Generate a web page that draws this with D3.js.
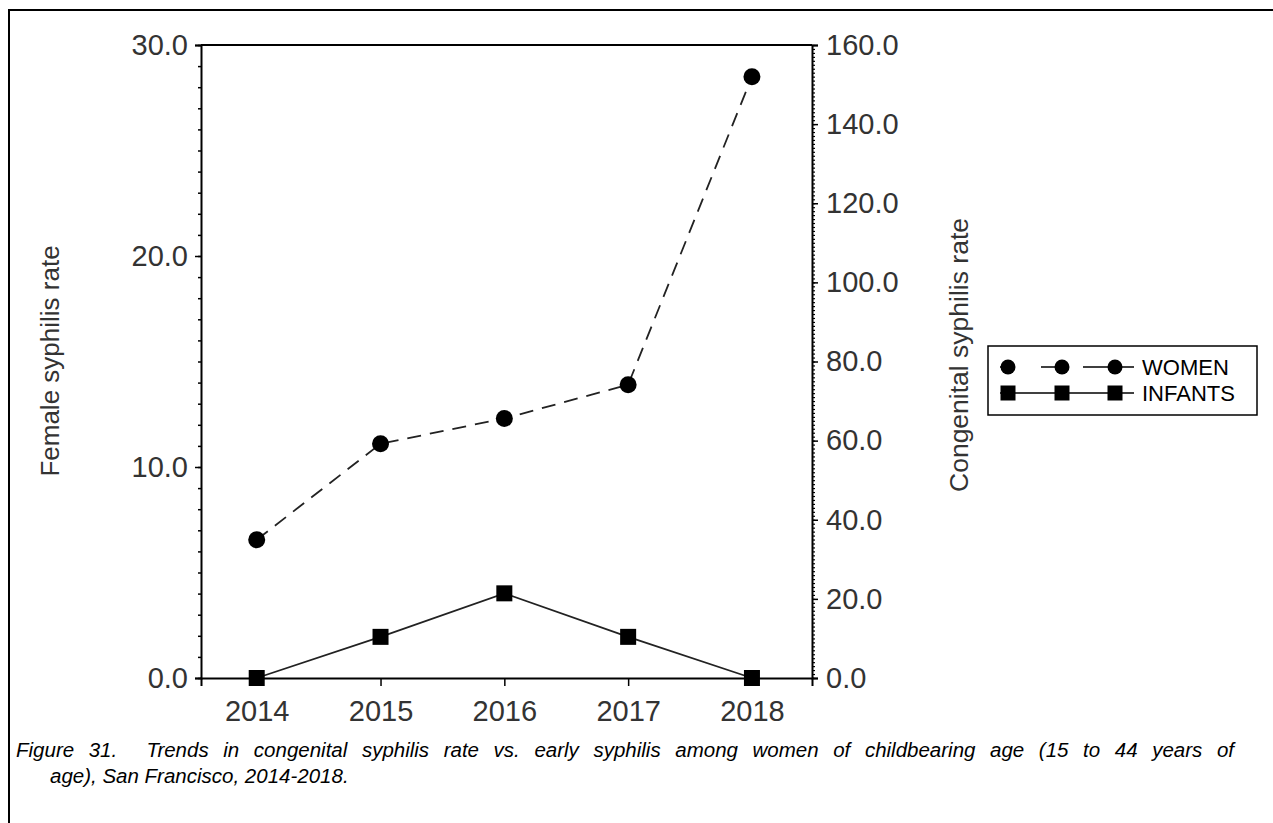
<!DOCTYPE html>
<html>
<head>
<meta charset="utf-8">
<script src="https://cdn.jsdelivr.net/npm/d3@7"></script>
<style>
  html, body { margin: 0; padding: 0; background: #fff; }
  svg { display: block; font-family: "Liberation Sans", Arial, sans-serif; }
</style>
</head>
<body>
<script>
// ---- data ----
const years = [2014, 2015, 2016, 2017, 2018];
const women = [6.55, 11.1, 12.3, 13.9, 28.5];     // Female syphilis rate (left axis)
const infants = [0, 10.4, 21.4, 10.4, 0];         // Congenital syphilis rate (right axis)
const leftTicks = [0, 10, 20, 30];
const rightTicks = [0, 20, 40, 60, 80, 100, 120, 140, 160];
const seriesNames = ["WOMEN", "INFANTS"];
const leftTitle = "Female syphilis rate";
const rightTitle = "Congenital syphilis rate";
const captionLines = [
  "Figure 31.  Trends in congenital syphilis rate vs. early syphilis among women of childbearing age (15 to 44 years of",
  "age), San Francisco, 2014-2018."
];

const W = 1273, H = 823;
const svg = d3.select("body").append("svg").attr("width", W).attr("height", H);
svg.append("rect").attr("width", W).attr("height", H).attr("fill", "#fff");

// outer frame
svg.append("rect").attr("x", 9).attr("y", 10).attr("width", W + 10).attr("height", H + 10)
  .attr("fill", "none").attr("stroke", "#000").attr("stroke-width", 2);

const plot = { left: 201, right: 812, top: 45, bottom: 678 };
const x = d3.scaleLinear().domain([2013.55, 2018.485]).range([plot.left, plot.right]);
const yL = d3.scaleLinear().domain([0, 30]).range([plot.bottom, plot.top]);
const yR = d3.scaleLinear().domain([0, 160]).range([plot.bottom, plot.top]);

const textColor = "#333";
const tickFont = 29;

// top frame line
svg.append("line").attr("x1", plot.left).attr("x2", plot.right)
  .attr("y1", plot.top).attr("y2", plot.top).attr("stroke", "#000").attr("stroke-width", 2);

function styleAxis(g) {
  g.select(".domain").attr("stroke", "#000").attr("stroke-width", 2);
  g.selectAll(".tick line").attr("stroke", "#000").attr("stroke-width", 1.5);
  g.selectAll(".tick text").attr("fill", textColor).attr("font-size", tickFont)
    .attr("font-family", "'Liberation Sans', Arial, sans-serif");
}

// left minor ticks
svg.append("g").attr("transform", `translate(${plot.left},0)`)
  .call(d3.axisLeft(yL).tickValues(d3.range(0, 31, 1)).tickSize(3).tickFormat(""))
  .call(g => { g.select(".domain").remove(); g.selectAll("line").attr("stroke", "#000").attr("stroke-width", 1.5); });
// left major
svg.append("g").attr("transform", `translate(${plot.left},0)`)
  .call(d3.axisLeft(yL).tickValues(leftTicks).tickSize(6).tickPadding(7).tickFormat(d3.format(".1f")))
  .call(styleAxis);

// right minor ticks
svg.append("g").attr("transform", `translate(${plot.right},0)`)
  .call(d3.axisRight(yR).tickValues(d3.range(0, 161, 1)).tickSize(3).tickFormat(""))
  .call(g => { g.select(".domain").remove(); g.selectAll("line").attr("stroke", "#000").attr("stroke-width", 1.2); });
// right major
svg.append("g").attr("transform", `translate(${plot.right},0)`)
  .call(d3.axisRight(yR).tickValues(rightTicks).tickSize(6).tickPadding(8).tickFormat(d3.format(".1f")))
  .call(styleAxis);

// bottom axis
svg.append("g").attr("transform", `translate(0,${plot.bottom})`)
  .call(d3.axisBottom(x).tickValues(years).tickSize(8).tickPadding(14).tickFormat(d3.format("d")))
  .call(styleAxis);

// axis titles
svg.append("text").attr("transform", "translate(59,361) rotate(-90)")
  .attr("text-anchor", "middle").attr("font-size", 26).attr("fill", textColor).text(leftTitle);
svg.append("text").attr("transform", "translate(968,355) rotate(-90)")
  .attr("text-anchor", "middle").attr("font-size", 26.5).attr("fill", textColor).text(rightTitle);

// series
const lineW = d3.line().x((d, i) => x(years[i])).y(d => yL(d));
const lineI = d3.line().x((d, i) => x(years[i])).y(d => yR(d));

svg.append("path").datum(women).attr("d", lineW).attr("fill", "none")
  .attr("stroke", "#222").attr("stroke-width", 1.8).attr("stroke-dasharray", "14,9");
svg.append("path").datum(infants).attr("d", lineI).attr("fill", "none")
  .attr("stroke", "#222").attr("stroke-width", 1.8);

const r = 8.5, sq = 16;
svg.selectAll("circle.w").data(women).join("circle").attr("class", "w")
  .attr("cx", (d, i) => x(years[i])).attr("cy", d => yL(d)).attr("r", r).attr("fill", "#000");
svg.selectAll("rect.i").data(infants).join("rect").attr("class", "i")
  .attr("x", (d, i) => x(years[i]) - sq / 2).attr("y", d => yR(d) - sq / 2)
  .attr("width", sq).attr("height", sq).attr("fill", "#000");

// legend
const leg = { x: 988, y: 346, w: 269, h: 69 };
svg.append("rect").attr("x", leg.x).attr("y", leg.y).attr("width", leg.w).attr("height", leg.h)
  .attr("fill", "#fff").attr("stroke", "#000").attr("stroke-width", 1.5);
const legRows = [leg.y + 21, leg.y + 47];
const legX0 = leg.x + 12, legX1 = leg.x + 146;
const legMarks = [leg.x + 20, leg.x + 74, leg.x + 127];
seriesNames.forEach((name, k) => {
  const yy = legRows[k];
  svg.append("line").attr("x1", legX0).attr("x2", legX1).attr("y1", yy).attr("y2", yy)
    .attr("stroke", "#000").attr("stroke-width", 1.5)
    .attr("stroke-dasharray", k === 0 ? "10,31,28,14,70" : null);
  legMarks.forEach(mx => {
    if (k === 0) svg.append("circle").attr("cx", mx).attr("cy", yy).attr("r", 7.5).attr("fill", "#000");
    else svg.append("rect").attr("x", mx - 7.5).attr("y", yy - 7.5).attr("width", 15).attr("height", 15).attr("fill", "#000");
  });
  svg.append("text").attr("x", leg.x + 154).attr("y", yy).attr("dy", "0.36em")
    .attr("font-size", 22).attr("fill", "#000").text(name);
});

// caption (first line justified to the full width via word spacing)
const capFont = 20.5;
const cap1 = svg.append("text").attr("x", 16).attr("y", 757).attr("font-size", capFont).attr("font-style", "italic")
  .attr("fill", "#000").style("white-space", "pre").text(captionLines[0]);
const natural = cap1.node().getComputedTextLength();
const nSpaces = (captionLines[0].match(/ /g) || []).length;
const extra = Math.max(0, (1234 - 16) - natural);
cap1.style("word-spacing", (extra / nSpaces) + "px");
svg.append("text").attr("x", 50).attr("y", 783).attr("font-size", capFont).attr("font-style", "italic")
  .attr("fill", "#000").style("white-space", "pre").text(captionLines[1]);
</script>
</body>
</html>
